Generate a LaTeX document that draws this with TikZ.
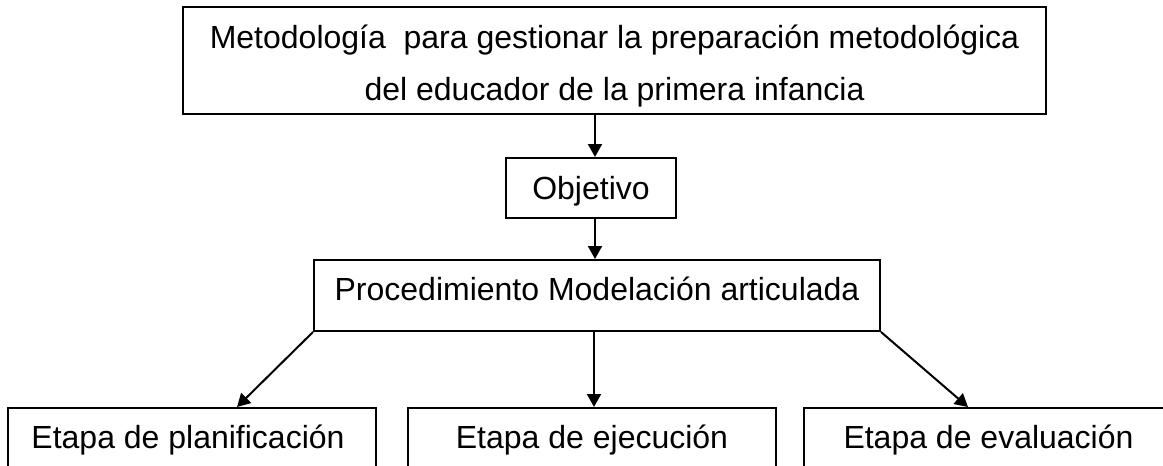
\documentclass[tikz,border=0pt]{standalone}
\usepackage{fontspec}
\setmainfont{Liberation Sans}
\usetikzlibrary{arrows.meta}
\begin{document}
\begin{tikzpicture}[x=1pt,y=-1pt,
  box/.style={draw,line width=2pt,inner sep=0pt},
  txt/.style={anchor=base,inner sep=0pt,font=\fontsize{32}{52}\selectfont},
  arr/.style={line width=2pt,-{Triangle[length=13pt,width=14pt]}}]
\useasboundingbox (0,0) rectangle (1163,466);
\clip (0,0) rectangle (1163,466);
% boxes
\node[box,minimum width=863pt,minimum height=107pt] (top) at (614.5,60.5) {};
\node[box,minimum width=170pt,minimum height=60pt] (obj) at (591,188) {};
\node[box,minimum width=566pt,minimum height=71pt] (proc) at (597,295.5) {};
\node[box,minimum width=368pt,minimum height=92pt] (b1) at (192,454) {};
\node[box,minimum width=368pt,minimum height=92pt] (b2) at (592,454) {};
\node[box,minimum width=371pt,minimum height=92pt] (b3) at (989.5,454) {};
% texts
\node[txt] (t1a) at (614.5,48) {Metodología\ \ para gestionar la preparación metodológica};
\node[txt] (t1b) at (614.5,100) {del educador de la primera infancia};
\node[txt] (t2) at (591,199) {Objetivo};
\node[txt] (t3) at (597,300) {Procedimiento Modelación articulada};
\node[txt] (t4) at (188,448) {Etapa de planificación};
\node[txt] (t5) at (592,448) {Etapa de ejecución};
\node[txt] (t6) at (988.5,448) {Etapa de evaluación};
% connectors
\coordinate (xa) at (595,0);
\coordinate (xb) at (594,0);
\coordinate (xl) at (237,0);
\coordinate (xr) at (968,0);
\draw[arr] (top.south -| xa) -- (obj.north -| xa);
\draw[arr] (obj.south -| xa) -- (proc.north -| xa);
\draw[arr] (proc.south -| xb) -- (b2.north -| xb);
\draw[arr] (proc.south west) -- (b1.north -| xl);
\draw[arr] (proc.south east) -- (b3.north -| xr);
\end{tikzpicture}
\end{document}
